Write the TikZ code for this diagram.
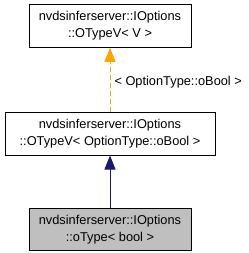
\documentclass[tikz,border=0pt]{standalone}
\usepackage{fontspec}
\setmainfont{Liberation Sans}
\usetikzlibrary{arrows.meta, positioning}
\definecolor{doxyorange}{HTML}{FFA500}
\definecolor{doxyblue}{HTML}{191970}
\definecolor{doxygray}{HTML}{BFBFBF}

\begin{document}
\begin{tikzpicture}[
  x=0.75pt, y=-0.75pt,
  cls/.style={rectangle, draw=black, line width=0.75pt, fill=white,
    align=center, font=\fontsize{9.6}{12.6}\selectfont,
    minimum width=121.5pt, minimum height=32pt, inner sep=0pt},
  current/.style={cls, fill=doxygray},
  inherit/.style={-{Triangle[length=10.5pt, width=8.25pt]},
    line width=0.75pt, doxyblue},
  tmpl/.style={inherit, doxyorange, dash pattern=on 3.75pt off 2.25pt},
  tlabel/.style={font=\fontsize{9.6}{12.6}\selectfont, anchor=west,
    text=black, inner sep=0pt, xshift=3pt, yshift=-2pt},
]
\useasboundingbox (0,0) rectangle (248,253);
% ====== CLASS BOXES ======
\node[cls] (otypev) at (110,26)
  {nvdsinferserver::IOptions\\::OTypeV< V >};
\node[cls, minimum width=157.5pt, below=48pt of otypev] (otypevbool)
  {nvdsinferserver::IOptions\\::OTypeV< OptionType::oBool >};
\node[current, below=39pt of otypevbool] (otypebool)
  {nvdsinferserver::IOptions\\::oType< bool >};
%
% ====== INHERITANCE ======
\draw[tmpl] (otypevbool.north -| otypev) -- (otypev.south)
  node[tlabel, midway] (tparam) {< OptionType::oBool >};
\draw[inherit] (otypebool.north) -- (otypebool |- otypevbool.south);
\end{tikzpicture}
\end{document}
